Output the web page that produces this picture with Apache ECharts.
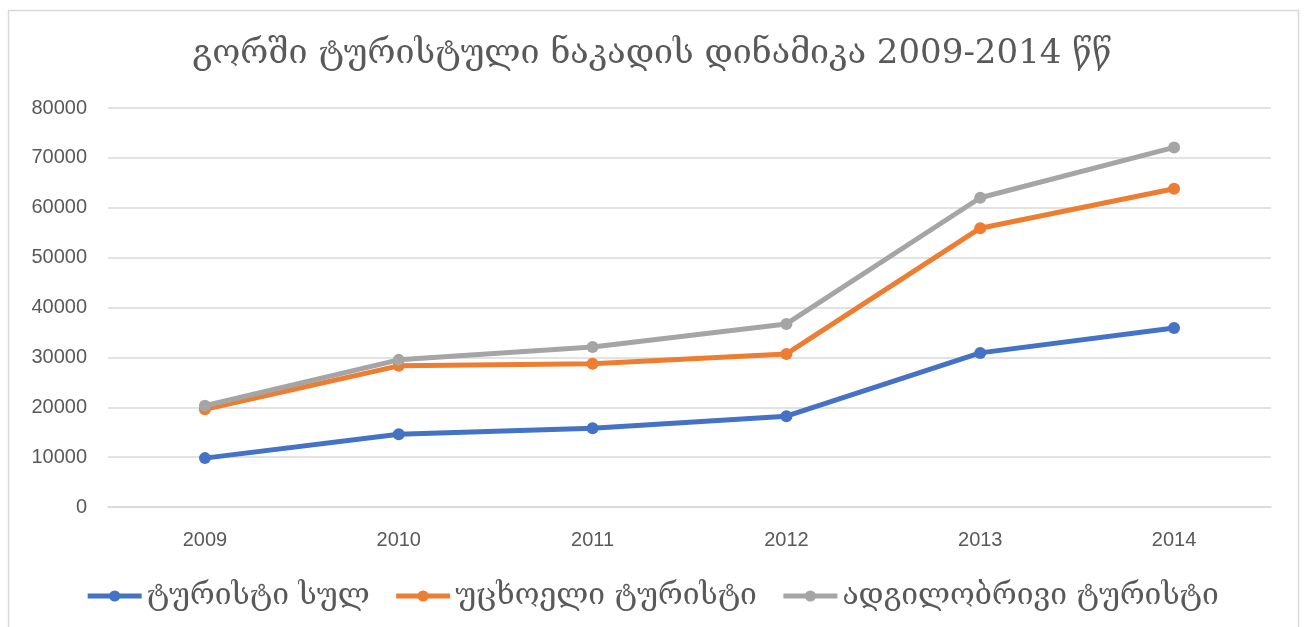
<!DOCTYPE html>
<html>
<head>
<meta charset="utf-8">
<script src="https://cdn.jsdelivr.net/npm/echarts@6/dist/echarts.min.js"></script>
<style>
  html, body { margin: 0; padding: 0; background: #fff; }
  #chart { width: 1304px; height: 627px; }
</style>
</head>
<body>
<div id="chart"></div>
<script>
// years on the x axis
const years = ['2009', '2010', '2011', '2012', '2013', '2014'];
// series values
const totalTourists = [9800, 14600, 15800, 18200, 30900, 35900];
const foreignTourists = [19600, 28300, 28700, 30700, 55900, 63800];
const localTourists = [20300, 29500, 32100, 36700, 62000, 72100];
const seriesNames = ['ტურისტი სულ', 'უცხოელი ტურისტი', 'ადგილობრივი ტურისტი'];
const colorList = ['#4472C4', '#ED7D31', '#A5A5A5'];

var myChart = echarts.init(document.getElementById('chart'));

function lineSeries(name, data, color) {
    return {
        name: name,
        type: 'line',
        data: data,
        symbol: 'circle',
        symbolSize: 12,
        lineStyle: { width: 5, color: color },
        itemStyle: { color: color }
    };
}

var option = {
    animation: false,
    title: {
        text: 'გორში ტურისტული ნაკადის დინამიკა 2009-2014 წწ',
        left: 'center',
        top: 32,
        textStyle: {
            fontFamily: 'DejaVu Serif',
            fontSize: 34,
            fontWeight: 'normal',
            color: '#595959'
        }
    },
    graphic: [{
        type: 'rect',
        shape: { x: 8.5, y: 10.5, width: 1290, height: 640 },
        style: { fill: 'none', stroke: '#d9d9d9', lineWidth: 1.5 },
        silent: true
    }],
    legend: {
        bottom: 11,
        left: 'center',
        itemWidth: 54,
        itemHeight: 14,
        itemGap: 24,
        lineStyle: { width: 5 },
        textStyle: {
            fontFamily: 'DejaVu Serif',
            fontSize: 30,
            color: '#595959'
        },
        data: seriesNames
    },
    grid: {
        left: 108,
        right: 33,
        top: 108,
        bottom: 120
    },
    xAxis: {
        type: 'category',
        data: years,
        boundaryGap: true,
        axisLine: { lineStyle: { color: '#d9d9d9', width: 1.5 } },
        axisTick: { show: false },
        axisLabel: {
            color: '#595959',
            fontSize: 20,
            fontFamily: 'Liberation Sans',
            margin: 23
        }
    },
    yAxis: {
        type: 'value',
        min: 0,
        max: 80000,
        interval: 10000,
        axisLine: { show: false },
        axisTick: { show: false },
        splitLine: { lineStyle: { color: '#d9d9d9', width: 1.5 } },
        axisLabel: {
            color: '#595959',
            fontSize: 20,
            fontFamily: 'Liberation Sans',
            margin: 21,
            formatter: function (v) { return String(v); }
        }
    },
    series: [
        lineSeries(seriesNames[0], totalTourists, colorList[0]),
        lineSeries(seriesNames[1], foreignTourists, colorList[1]),
        lineSeries(seriesNames[2], localTourists, colorList[2])
    ]
};

myChart.setOption(option);
</script>
</body>
</html>
